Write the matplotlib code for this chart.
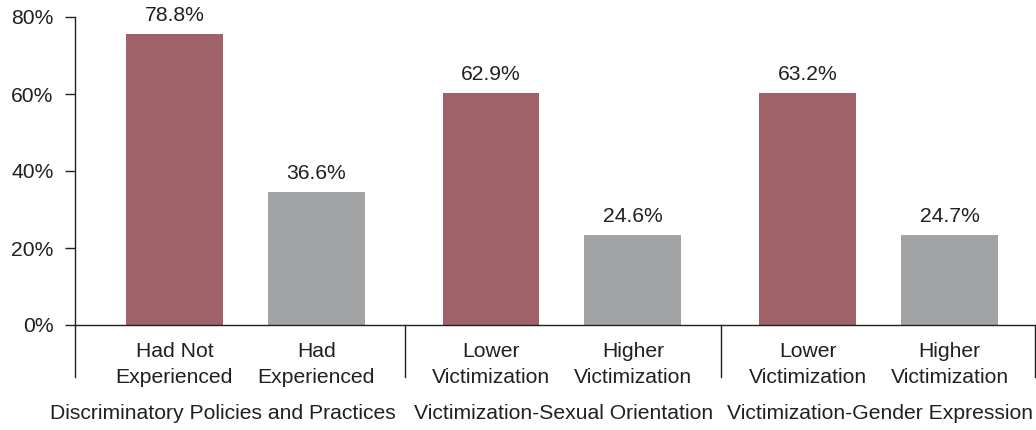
import matplotlib.pyplot as plt
import matplotlib.transforms as mtransforms

# data
groups = ["Discriminatory Policies and Practices",
          "Victimization-Sexual Orientation",
          "Victimization-Gender Expression"]
bar_labels = ["Had Not\nExperienced", "Had\nExperienced",
              "Lower\nVictimization", "Higher\nVictimization",
              "Lower\nVictimization", "Higher\nVictimization"]
value_text = ["78.8%", "36.6%", "62.9%", "24.6%", "63.2%", "24.7%"]
# bar heights as drawn in the picture (in % units of the y axis)
bar_heights = [75.6, 34.5, 60.3, 23.4, 60.3, 23.4]
yticks = [0, 20, 40, 60, 80]

maroon = "#9e6268"
grey = "#a2a3a5"
txt = "#231f20"
fs = 15.2

plt.rcParams['font.family'] = ['Liberation Sans', 'DejaVu Sans']

fig = plt.figure(figsize=(10.36, 4.30), dpi=100)
W, H = 1036, 430
ax = fig.add_axes([75 / W, 1 - 325 / H, (1035 - 75) / W, (325 - 17) / H])

xpos = []
for g in range(len(groups)):
    xpos.append(g - 0.224)
    xpos.append(g + 0.224)
colors = [maroon, grey] * 3

ax.bar(xpos, bar_heights, width=0.306, color=colors, zorder=2)

for x, h, s in zip(xpos, bar_heights, value_text):
    ax.annotate(s, (x, h), xytext=(0, 13.5), textcoords="offset points",
                ha="center", va="center", fontsize=fs, color=txt)

ax.set_xlim(-0.538, 2.494)
ax.set_ylim(0, 80)
ax.set_yticks(yticks)
ax.set_yticklabels([f"{t}%" for t in yticks], fontsize=fs, color=txt)
ax.tick_params(axis="y", length=7.5, width=1, color=txt, pad=8)

ax.set_xticks(xpos)
ax.set_xticklabels(bar_labels, fontsize=fs, color=txt, linespacing=1.47)
ax.tick_params(axis="x", length=0, pad=12)

for side in ["top", "right"]:
    ax.spines[side].set_visible(False)
for side in ["left", "bottom"]:
    ax.spines[side].set_color(txt)
    ax.spines[side].set_linewidth(1)

trans = mtransforms.blended_transform_factory(ax.transData, ax.transAxes)
for sx in [-0.538, 0.503, 1.503, 2.494]:
    ax.plot([sx, sx], [0, -0.169], transform=trans, color=txt, lw=1,
            clip_on=False)

# group captions sit a little left of the group centre for the first one
group_x = [-0.07, 1.006, 2.003]
for gx, name in zip(group_x, groups):
    ax.text(gx, -0.286, name, transform=trans, ha="center", va="center",
            fontsize=fs, color=txt)

fig.savefig("out.png", dpi=100)
